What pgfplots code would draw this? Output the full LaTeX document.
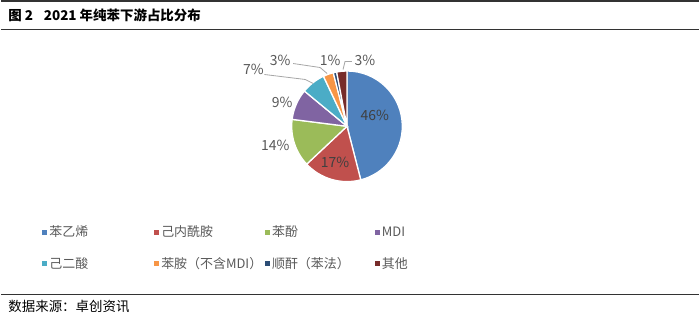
\documentclass[border=0pt]{standalone}
\usepackage{fontspec}
\setmainfont{Noto Sans CJK SC}
\usepackage{pgfplots}
\usepackage{pgfplotstable}
\pgfplotsset{compat=1.18}
\definecolor{c1}{HTML}{4F81BD}
\definecolor{c2}{HTML}{C0504D}
\definecolor{c3}{HTML}{9BBB59}
\definecolor{c4}{HTML}{8064A2}
\definecolor{c5}{HTML}{4BACC6}
\definecolor{c6}{HTML}{F79646}
\definecolor{c7}{HTML}{2C4D75}
\definecolor{c8}{HTML}{772C2A}
\definecolor{lbl}{HTML}{404040}
\definecolor{legtxt}{HTML}{595959}
\pgfplotstableread{
value color
46 c1
17 c2
14 c3
9 c4
7 c5
3 c6
1 c7
3 c8
}\piedata
\begin{document}
\begin{tikzpicture}
\begin{axis}[
  width=700pt, height=323pt, scale only axis,
  xmin=0, xmax=700, ymin=0, ymax=323, y dir=reverse,
  hide axis, clip=false,
  legend columns=4,
  legend cell align=left,
  legend image code/.code={\fill[#1, draw=none] (0pt,-2.6pt) rectangle (5.2pt,2.6pt);},
  legend style={draw=none, fill=none, at={(axis cs:38,251)}, anchor=west,
    font=\fontsize{13}{15}\selectfont, text=legtxt,
    /tikz/every even column/.append style={column sep=2pt},
    row sep=15pt},
]
% pie from data
\def\angA{90}
\pgfplotsforeachungrouped \i in {0,...,7}{%
  \pgfplotstablegetelem{\i}{value}\of\piedata \let\sliceval=\pgfplotsretval
  \pgfplotstablegetelem{\i}{color}\of\piedata \let\slicecol=\pgfplotsretval
  \pgfmathsetmacro\angB{\angA-3.6*\sliceval}%
  \edef\temp{\noexpand\fill[fill=\slicecol, draw=white, line width=1.3pt] (axis cs:347,129) -- ++(\angA:55.5pt) arc[start angle=\angA, end angle=\angB, radius=55.5pt] -- cycle;}%
  \temp
  \let\angA=\angB
}
% legend entries
\addlegendimage{fill=c1, draw=none}\addlegendentry{\makebox[101pt][l]{苯乙烯}}
\addlegendimage{fill=c2, draw=none}\addlegendentry{\makebox[100pt][l]{己内酰胺}}
\addlegendimage{fill=c3, draw=none}\addlegendentry{\makebox[99pt][l]{苯酚}}
\addlegendimage{fill=c4, draw=none}\addlegendentry{\makebox[60pt][l]{MDI}}
\addlegendimage{fill=c5, draw=none}\addlegendentry{\makebox[101pt][l]{己二酸}}
\addlegendimage{fill=c6, draw=none}\addlegendentry{\makebox[100pt][l]{苯胺（不含MDI）}}
\addlegendimage{fill=c7, draw=none}\addlegendentry{\makebox[99pt][l]{顺酐（苯法）}}
\addlegendimage{fill=c8, draw=none}\addlegendentry{\makebox[60pt][l]{其他}}
% labels
\begin{scope}[font=\fontsize{14}{16}\selectfont]
\node[text=lbl] at (axis cs:375,118) {46\%};
\node[text=lbl] at (axis cs:335,165) {17\%};
\node[text=legtxt] at (axis cs:275,148) {14\%};
\node[text=legtxt] at (axis cs:282,105) {9\%};
\node[text=legtxt] at (axis cs:253,72) {7\%};
\node[text=legtxt] at (axis cs:280,63) {3\%};
\node[text=legtxt] at (axis cs:330,63) {1\%};
\node[text=legtxt] at (axis cs:365,63) {3\%};
\end{scope}
\draw[black!35, line width=0.8pt] (axis cs:264,77) -- (axis cs:305,82) -- (axis cs:313,86);
\draw[black!35, line width=0.8pt] (axis cs:293,66) -- (axis cs:320,70) -- (axis cs:327,76);
\draw[black!35, line width=0.8pt] (axis cs:352,64) -- (axis cs:345,64) -- (axis cs:343,72);
% rules and text
\draw[black!80, line width=2.5pt] (axis cs:0,3.5) -- (axis cs:700,3.5);
\draw[black!80, line width=1.2pt] (axis cs:0,31.5) -- (axis cs:700,31.5);
\draw[black!80, line width=1.2pt] (axis cs:0,298) -- (axis cs:700,298);
\node[anchor=west, inner sep=0pt, font=\fontsize{13.5}{16}\selectfont\bfseries] at (axis cs:7,18) {图 2\hspace{0.8em}2021 年纯苯下游占比分布};
\node[anchor=west, inner sep=0pt, font=\fontsize{13.5}{16}\selectfont] at (axis cs:7,310) {数据来源：卓创资讯};
\end{axis}
\end{tikzpicture}
\end{document}
